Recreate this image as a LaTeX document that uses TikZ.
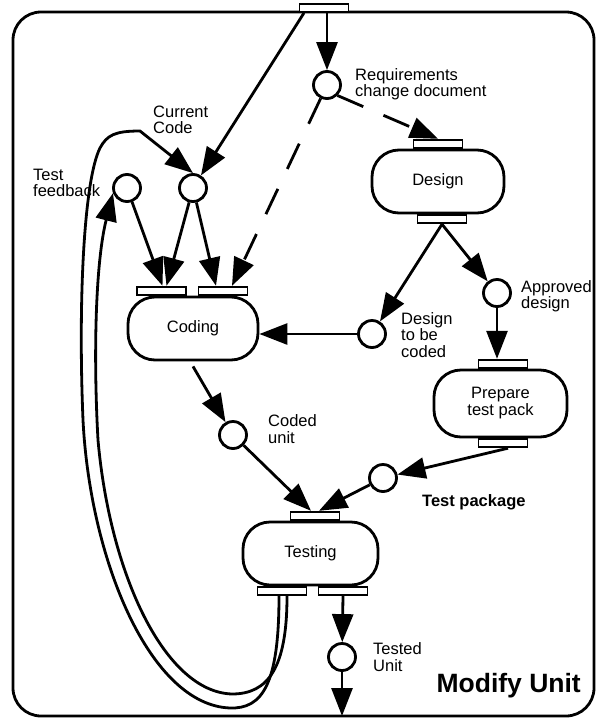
\documentclass[tikz,border=0pt]{standalone}
\usepackage{fontspec}
\setmainfont{Liberation Sans}
\usetikzlibrary{arrows.meta,positioning}

\begin{document}
\begin{tikzpicture}[x=1pt,y=1pt,on grid,
    >={Triangle[length=28pt,width=21pt]},
    proc/.style={draw,line width=2.8pt,rounded corners=27pt,fill=white,
        minimum width=132pt,minimum height=63pt,align=center,
        font=\fontsize{16.5}{17}\selectfont},
    port/.style={draw,line width=1.8pt,fill=white,minimum width=49pt,
        minimum height=8pt,inner sep=0pt},
    store/.style={circle,draw,line width=2.8pt,fill=white,minimum size=27pt,inner sep=0pt},
    lbl/.style={align=left,anchor=west,inner sep=0pt,font=\fontsize{16.5}{16.5}\selectfont},
    flow/.style={->,line width=2.8pt}]
  \useasboundingbox (0,0) rectangle (597,-721);
  \draw[line width=2.8pt,rounded corners=28pt] (13,-12) rectangle (594,-716);

  % processes
  \node[proc] (des) at (438,-181.5) {Design};
  \node[proc,minimum width=130pt] (cod) at (193,-328.5) {Coding};
  \node[proc,minimum width=133pt,minimum height=67pt] (prep) at (500.5,-403.5) {Prepare\\test pack};
  \node[proc,minimum width=135pt] (tst) at (310.5,-553.5) {Testing};

  % ports
  \node[port] (src) at (324,-8) {};
  \node[port,anchor=south] (des-in) at (des.north) {};
  \node[port,anchor=north] (des-out) at ([xshift=4pt]des.south) {};
  \node[port,anchor=south] (cod-in1) at ([xshift=-31.5pt]cod.north) {};
  \node[port,anchor=south] (cod-in2) at ([xshift=30pt]cod.north) {};
  \node[port,anchor=south] (prep-in) at ([xshift=2.5pt]prep.north) {};
  \node[port,anchor=north] (prep-out) at ([xshift=2.5pt]prep.south) {};
  \node[port,anchor=south] (tst-in) at ([xshift=4.5pt]tst.north) {};
  \node[port,anchor=north] (tst-out1) at ([xshift=-28.5pt]tst.south) {};
  \node[port,anchor=north] (tst-out2) at ([xshift=32.5pt]tst.south) {};

  % stores
  \node[store] (req) [above left=96.5pt and 111pt of des] {};
  \node[store] (app) [below right=111.5pt and 59pt of des] {};
  \node[store] (dtc) [below left=152.5pt and 66pt of des] {};
  \node[store] (cur) [above=140.5pt of cod] {};
  \node[store] (fb) [left=66pt of cur] {};
  \node[store] (cu) [below right=106.5pt and 40pt of cod] {};
  \node[store] (tp) [above right=75.5pt and 72.5pt of tst] {};
  \node[store] (tu) [below right=103.5pt and 31.5pt of tst] {};
  \coordinate (exit) at (342,-716);

  % labels
  \node[lbl] (req-t) at (355,-84) {Requirements\\change document};
  \node[lbl] (cur-t) at (153,-120) {Current\\Code};
  \node[lbl] (fb-t) at (33,-183) {Test\\feedback};
  \node[lbl] (dtc-t) at (401,-335) {Design\\to be\\coded};
  \node[lbl] (app-t) at (521,-296) {Approved\\design};
  \node[lbl] (cu-t) at (268,-429) {Coded\\unit};
  \node[lbl,font=\fontsize{16.5}{17}\selectfont\bfseries] (tp-t) at (422,-502) {Test package};
  \node[lbl] (tu-t) at (373,-657) {Tested\\Unit};
  \node[lbl,anchor=east,font=\fontsize{26.5}{27}\selectfont\bfseries] (title) at (581,-686) {Modify Unit};

  \path[flow]
    (src.south -| req) edge (req)
    ([xshift=-20pt]src.south) edge (cur)
    (cur) edge ([xshift=5pt]cod-in1.north)
          edge ([xshift=-7pt]cod-in2.north)
    (fb)  edge ([xshift=1pt]cod-in1.north)
    (des-out.south) edge (dtc)
                    edge (app)
    (app) edge (app |- prep-in.north)
    (dtc) edge (dtc -| cod.east)
    ([yshift=-5pt]cod.south) edge (cu)
    (cu)  edge ([xshift=-4pt]tst-in.north)
    ([xshift=5pt]prep-out.south) edge (tp)
    (tp)  edge ([xshift=4pt]tst-in.north)
    (tst-out2.south) edge (tu)
    (tu)  edge (exit);
  \path[flow,dash pattern=on 28pt off 22pt]
    (req) edge ([xshift=9pt]cod-in2.north)
    (req.south east) edge (des-in.north);

  % feedback from testing
  \draw[flow] ([xshift=-3pt]tst-out1.south) .. controls (279,-685) and (262,-709) .. (230,-708)
    .. controls (150,-705) and (90,-560) .. (83,-420)
    .. controls (78,-300) and (84,-180) .. (100,-148)
    .. controls (107,-135) and (115,-131) .. (140,-131) -- (cur.north);
  \draw[flow] ([xshift=5pt]tst-out1.south) .. controls (287,-668) and (268,-694) .. (232,-694)
    .. controls (165,-692) and (110,-575) .. (98,-440)
    .. controls (93,-350) and (96,-260) .. (fb.200);
\end{tikzpicture}
\end{document}
